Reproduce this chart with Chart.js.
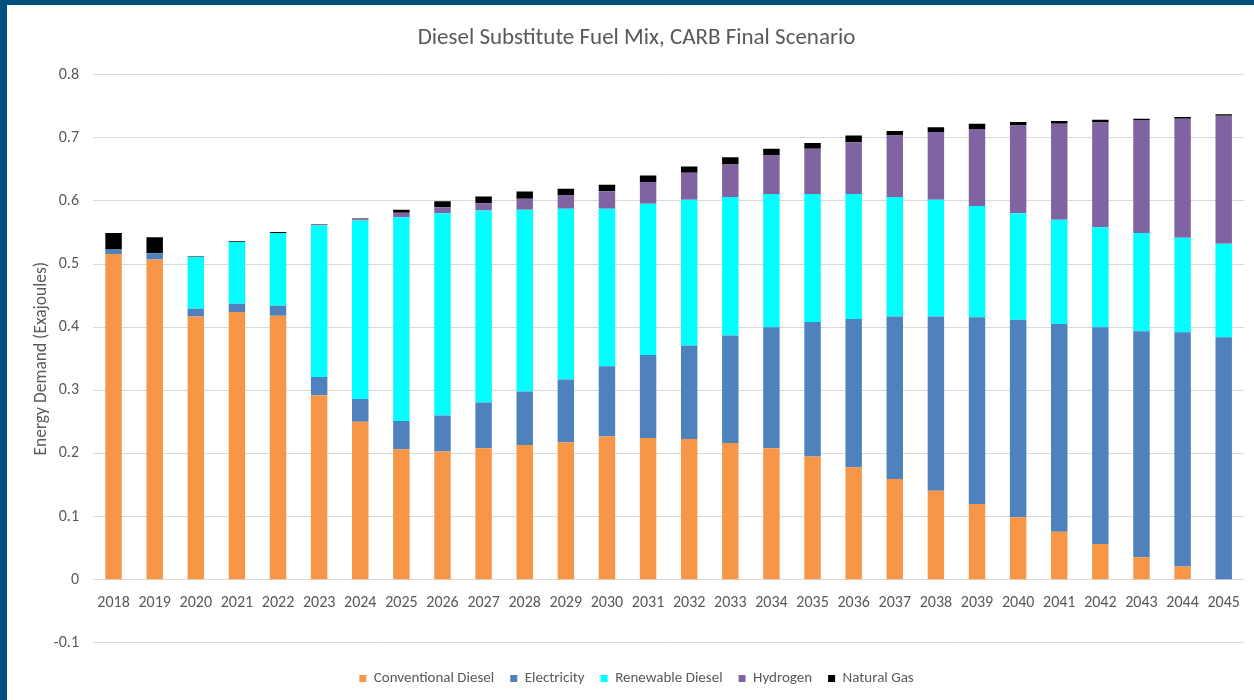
<!DOCTYPE html>
<html>
<head>
<meta charset="utf-8">
<script src="https://cdn.jsdelivr.net/npm/chart.js@4.4.1/dist/chart.umd.min.js"></script>
<style>
  html, body { margin: 0; padding: 0; }
  body { width: 1254px; height: 700px; background: #03507f; position: relative; overflow: hidden; }
  #panel { position: absolute; left: 7px; top: 5px; width: 1247px; height: 695px; background: #ffffff; }
  canvas { display: block; }
</style>
</head>
<body>
<div id="panel"><canvas id="c" width="1247" height="695"></canvas></div>
<script>
const years = ['2018','2019','2020','2021','2022','2023','2024','2025','2026','2027','2028','2029','2030','2031','2032','2033','2034','2035','2036','2037','2038','2039','2040','2041','2042','2043','2044','2045'];
const conventionalDiesel = [0.516,0.507,0.417,0.424,0.418,0.292,0.250,0.2065,0.203,0.208,0.2134,0.2176,0.2266,0.2245,0.223,0.2166,0.208,0.195,0.178,0.1596,0.141,0.120,0.0988,0.076,0.0565,0.0354,0.021,0];
const electricity = [0.007,0.010,0.012,0.013,0.016,0.029,0.036,0.045,0.057,0.0725,0.0846,0.0994,0.1114,0.1315,0.148,0.1701,0.192,0.213,0.235,0.2574,0.276,0.2957,0.3127,0.329,0.3435,0.3581,0.371,0.384];
const renewableDiesel = [0,0,0.082,0.098,0.115,0.240,0.283,0.3225,0.3205,0.3043,0.288,0.2705,0.2495,0.2394,0.2307,0.2193,0.211,0.203,0.198,0.189,0.1847,0.176,0.169,0.165,0.1584,0.1555,0.1495,0.148];
const hydrogen = [0,0,0,0,0,0.001,0.002,0.007,0.0095,0.0116,0.0173,0.0211,0.0279,0.0343,0.0428,0.0517,0.061,0.0715,0.082,0.0976,0.1073,0.1223,0.139,0.152,0.1658,0.179,0.1885,0.203];
const naturalGas = [0.026,0.0255,0.001,0.001,0.0015,0.001,0.001,0.005,0.0095,0.0106,0.0116,0.0104,0.0101,0.0103,0.010,0.0113,0.0105,0.009,0.0106,0.0069,0.0078,0.008,0.0053,0.0044,0.0043,0.002,0.0027,0.002];
const yTicks = [-0.1,0,0.1,0.2,0.3,0.4,0.5,0.6,0.7,0.8];

const FONT = "Carlito, Calibri, 'Liberation Sans Narrow', 'Open Sans', sans-serif";
const TXT = '#595959';
const mk = (label, data, color) => ({ label, data, backgroundColor: color, borderWidth: 0, barPercentage: 0.4, categoryPercentage: 1.0 });

new Chart(document.getElementById('c'), {
  type: 'bar',
  data: {
    labels: years,
    datasets: [
      mk('Conventional Diesel', conventionalDiesel, '#F79646'),
      mk('Electricity', electricity, '#4F81BD'),
      mk('Renewable Diesel', renewableDiesel, '#00FFFF'),
      mk('Hydrogen', hydrogen, '#8064A2'),
      mk('Natural Gas', naturalGas, '#000000')
    ]
  },
  options: {
    responsive: false,
    animation: false,
    devicePixelRatio: 1,
    layout: { padding: { left: 16, right: 4, top: 0, bottom: 4 } },
    plugins: {
      tooltip: { enabled: false },
      title: {
        display: true,
        text: 'Diesel Substitute Fuel Mix, CARB Final Scenario',
        color: TXT,
        font: { family: FONT, size: 23, weight: 'normal' },
        padding: { top: 19, bottom: 23 }
      },
      legend: {
        position: 'bottom',
        title: { display: true, text: '', font: { size: 1 }, padding: { top: 11, bottom: 0 } },
        labels: {
          color: TXT,
          font: { family: FONT, size: 15 },
          boxWidth: 7,
          boxHeight: 7,
          padding: 16
        }
      }
    },
    scales: {
      x: {
        stacked: true,
        position: { y: 0 },
        grid: { display: false, drawTicks: false },
        border: { display: false },
        ticks: { color: TXT, font: { family: FONT, size: 16 }, padding: 14, maxRotation: 0, autoSkip: false }
      },
      y: {
        stacked: true,
        min: -0.1,
        max: 0.8,
        afterBuildTicks: (scale) => { scale.ticks = yTicks.map(v => ({ value: v })); },
        afterFit: (scale) => { scale.width = 70; },
        grid: { color: '#D9D9D9', lineWidth: 1, drawTicks: false },
        border: { display: false },
        ticks: {
          color: TXT,
          font: { family: FONT, size: 16 },
          padding: 14,
          callback: (v) => String(Number(Number(v).toFixed(1)))
        },
        title: {
          display: true,
          text: 'Energy Demand (Exajoules)',
          color: TXT,
          font: { family: FONT, size: 17.5 },
          padding: { top: 8.5, bottom: 0 }
        }
      }
    }
  }
});
</script>
</body>
</html>
